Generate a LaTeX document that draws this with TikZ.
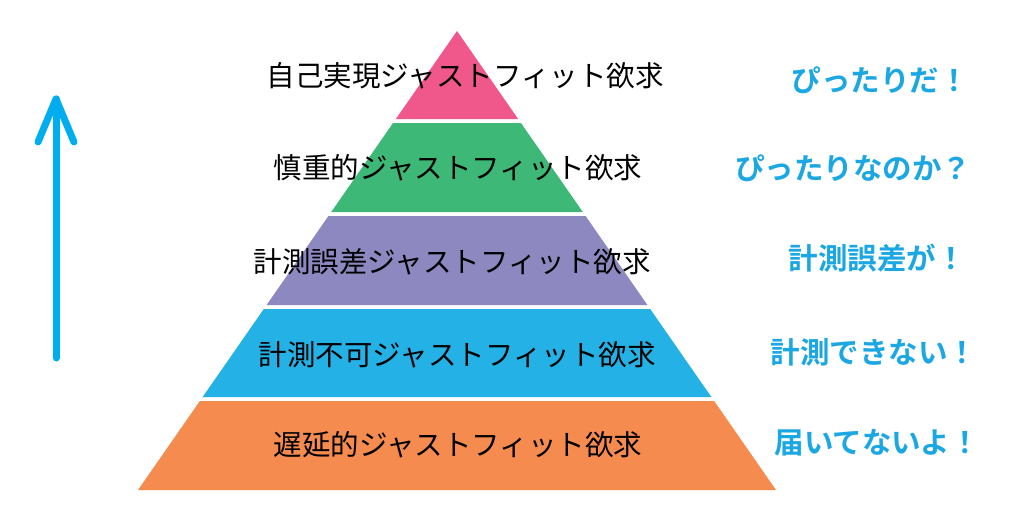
\documentclass[tikz,border=0pt]{standalone}
\usepackage{fontspec}
\newfontfamily\jpfont{Noto Sans CJK JP}
\newfontfamily\jpbold{Noto Sans CJK JP Bold}
\definecolor{pinkc}{HTML}{F0588B}
\definecolor{greenc}{HTML}{3DB877}
\definecolor{purplec}{HTML}{8D88C0}
\definecolor{bluec}{HTML}{24B2E6}
\definecolor{orangec}{HTML}{F58B4E}
\definecolor{labelc}{HTML}{1BA7E3}
\definecolor{arrowc}{HTML}{00AEEF}
\tikzset{
  layertext/.style={font=\jpfont\fontsize{28.5}{31}\selectfont, text=black, inner sep=0pt},
  sidetext/.style={font=\jpbold\fontsize{29.5}{33}\selectfont, text=labelc, inner sep=0pt},
  uparrow/.style={draw=arrowc, line width=7pt, line cap=round, line join=round}
}
\begin{document}
\begin{tikzpicture}[x=1pt,y=-1pt]
\useasboundingbox (0,0) rectangle (1024,512);
\foreach \t/\b/\c in {31/119/pinkc,123/212/greenc,216/305/purplec,309/397/bluec,401/490/orangec}{
  \fill[\c] ({457-0.695*(\t-31)},\t) -- ({457+0.695*(\t-31)},\t)
     -- ({457+0.695*(\b-31)},\b) -- ({457-0.695*(\b-31)},\b) -- cycle;
}
\node[layertext] (l1) at (465,76) {自己実現ジャストフィット欲求};
\node[layertext] (l2) at (458,168) {慎重的ジャストフィット欲求};
\node[layertext] (l3) at (452,262) {計測誤差ジャストフィット欲求};
\node[layertext] (l4) at (457,355) {計測不可ジャストフィット欲求};
\node[layertext] (l5) at (458,445) {遅延的ジャストフィット欲求};
\node[sidetext] (s1) at (880,80) {ぴったりだ！};
\node[sidetext] (s2) at (853,168) {ぴったりなのか？};
\node[sidetext] (s3) at (877,258) {計測誤差が！};
\node[sidetext] (s4) at (874,352) {計測できない！};
\node[sidetext] (s5) at (877,443) {届いてないよ！};
\coordinate (abot) at (56,358);
\coordinate (atop) at (56,99);
\draw[uparrow] (abot) -- (atop);
\draw[uparrow] (38,142) -- (atop) -- (74,142);
\end{tikzpicture}
\end{document}
